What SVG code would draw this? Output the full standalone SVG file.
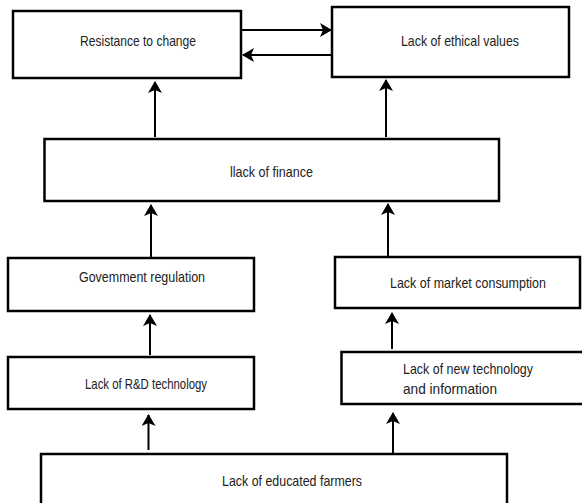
<svg xmlns="http://www.w3.org/2000/svg" width="582" height="503" viewBox="0 0 582 503">
<style>
.box{fill:#fff;stroke:#000;stroke-width:2.5}
.t{font-family:"Liberation Sans",Arial,sans-serif;font-size:14.5px;fill:#222}
.c{stroke:#000;stroke-width:2;fill:none;marker-end:url(#ah)}
</style>
<defs>
<marker id="ah" markerUnits="userSpaceOnUse" markerWidth="14" markerHeight="15" refX="11" refY="7" orient="auto">
<path d="M0,0 L12,7 L0,14 L3,7 z" fill="#000"/>
</marker>
</defs>
<rect width="582" height="503" fill="#fff"/>
<g id="connectors">
<line class="c" x1="241" y1="30" x2="331" y2="30"/>
<line class="c" x1="332" y1="55" x2="243" y2="55"/>
<line class="c" x1="155" y1="137" x2="155" y2="82"/>
<line class="c" x1="386" y1="137" x2="386" y2="80"/>
<line class="c" x1="151" y1="257" x2="151" y2="205"/>
<line class="c" x1="388" y1="256" x2="388" y2="204"/>
<line class="c" x1="150" y1="355" x2="150" y2="315"/>
<line class="c" x1="392" y1="349" x2="392" y2="313"/>
<line class="c" x1="148.5" y1="450" x2="148.5" y2="415"/>
<line class="c" x1="393" y1="453" x2="393" y2="413"/>
</g>
<g id="resistance">
<rect class="box" x="13" y="11" width="228" height="67"/>
<text class="t" x="80" y="46" textLength="116" lengthAdjust="spacingAndGlyphs">Resistance to change</text>
</g>
<g id="ethical">
<rect class="box" x="332" y="7" width="237" height="70"/>
<text class="t" x="401" y="46" textLength="118" lengthAdjust="spacingAndGlyphs">Lack of ethical values</text>
</g>
<g id="finance">
<rect class="box" x="44.5" y="139" width="454.5" height="62"/>
<text class="t" x="230" y="177" textLength="83" lengthAdjust="spacingAndGlyphs">llack of finance</text>
</g>
<g id="government">
<rect class="box" x="8" y="258" width="246" height="53"/>
<text class="t" x="79" y="282" textLength="126" lengthAdjust="spacingAndGlyphs">Govemment regulation</text>
</g>
<g id="market">
<rect class="box" x="335" y="257" width="245" height="51"/>
<text class="t" x="390" y="288" textLength="156" lengthAdjust="spacingAndGlyphs">Lack of market consumption</text>
</g>
<g id="rnd">
<rect class="box" x="8" y="357" width="246" height="52"/>
<text class="t" x="85" y="389" textLength="122" lengthAdjust="spacingAndGlyphs">Lack of R&amp;D technology</text>
</g>
<g id="newtech">
<rect class="box" x="341.5" y="352" width="242" height="52"/>
<text class="t" x="403" y="374" textLength="130" lengthAdjust="spacingAndGlyphs">Lack of new technology</text>
<text class="t" x="403" y="394" textLength="94" lengthAdjust="spacingAndGlyphs">and information</text>
</g>
<g id="farmers">
<rect class="box" x="41" y="454" width="466" height="60"/>
<text class="t" x="222" y="486" textLength="140" lengthAdjust="spacingAndGlyphs">Lack of educated farmers</text>
</g>
</svg>
